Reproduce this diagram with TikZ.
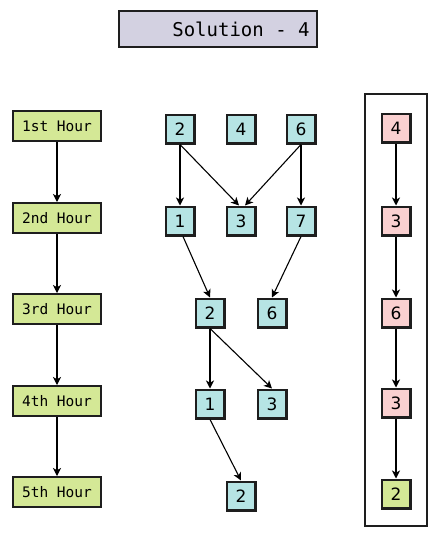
\documentclass[tikz,border=0pt]{standalone}
\usepackage{fontspec}
\setmainfont{DejaVu Sans}
\newfontfamily\monofont{DejaVu Sans Mono}
\usetikzlibrary{arrows.meta}
\definecolor{numfill}{RGB}{182,228,228}
\definecolor{hourfill}{RGB}{212,232,150}
\definecolor{pinkfill}{RGB}{250,208,208}
\definecolor{titlefill}{RGB}{211,209,225}
\definecolor{edge}{RGB}{30,30,30}
\tikzset{
  numbox/.style={draw=edge, line width=2.4pt, fill=numfill, minimum width=28.6pt, minimum height=28.6pt, inner sep=0pt, font=\fontsize{17}{19}\selectfont},
  pinkbox/.style={numbox, fill=pinkfill},
  greenbox/.style={numbox, fill=hourfill},
  hourbox/.style={draw=edge, line width=2.4pt, fill=hourfill, minimum width=87.6pt, minimum height=29.6pt, inner sep=0pt, font=\monofont\fontsize{14.5}{17}\selectfont},
  titlebox/.style={draw=edge, line width=1.8pt, fill=titlefill, minimum width=198pt, minimum height=36pt, inner sep=0pt},
  link/.style={draw=black, line width=1.1pt, -{Stealth[length=8pt,width=8pt,inset=2.2pt]}}
}
\begin{document}
\begin{tikzpicture}[x=1pt,y=-1pt]
\useasboundingbox (0,0) rectangle (437,538);
\fill[white] (0,0) rectangle (437,538);

% heading
\node[titlebox] (title) at (218,29) {};
\node[font=\monofont\fontsize{19}{22}\selectfont] (titletext) at (241,29) {Solution - 4};

% hour column
\node[hourbox] (h1) at (57,126) {1st Hour};
\node[hourbox] (h2) at (57,218) {2nd Hour};
\node[hourbox] (h3) at (57,309) {3rd Hour};
\node[hourbox] (h4) at (57,401) {4th Hour};
\node[hourbox] (h5) at (57,492) {5th Hour};
\draw[link] (h1) -- (h2);
\draw[link] (h2) -- (h3);
\draw[link] (h3) -- (h4);
\draw[link] (h4) -- (h5);

% task graph
\node[numbox] (a2) at (180,129) {2};
\node[numbox] (a4) at (241,129) {4};
\node[numbox] (a6) at (301,129) {6};
\node[numbox] (b1) at (180,221) {1};
\node[numbox] (b3) at (241,221) {3};
\node[numbox] (b7) at (301,221) {7};
\node[numbox] (c2) at (210,313) {2};
\node[numbox] (c6) at (272,313) {6};
\node[numbox] (d1) at (210,404) {1};
\node[numbox] (d3) at (272,404) {3};
\node[numbox] (e2) at (241,496) {2};
\draw[link] (a2.south) -- (b1.north);
\draw[link] (a2.south) -- ([xshift=-2pt]b3.north);
\draw[link] (a6.south) -- ([xshift=4pt]b3.north);
\draw[link] (a6.south) -- (b7.north);
\draw[link] ([xshift=3pt]b1.south) -- (c2.north);
\draw[link] (b7.south) -- (c6.north);
\draw[link] (c2.south) -- (d1.north);
\draw[link] (c2.south) -- (d3.north);
\draw[link] (d1.south) -- (e2.north);

% critical path
\node[draw=edge, line width=2.2pt, minimum width=62pt, minimum height=432pt, inner sep=0pt] (frame) at (396,310) {};
\node[pinkbox] (p4) at (396,128) {4};
\node[pinkbox] (p3) at (396,221) {3};
\node[pinkbox] (p6) at (396,313) {6};
\node[pinkbox] (q3) at (396,403) {3};
\node[greenbox] (g2) at (396,494) {2};
\draw[link] (p4) -- (p3);
\draw[link] (p3) -- (p6);
\draw[link] (p6) -- (q3);
\draw[link] (q3) -- (g2);
\end{tikzpicture}
\end{document}
